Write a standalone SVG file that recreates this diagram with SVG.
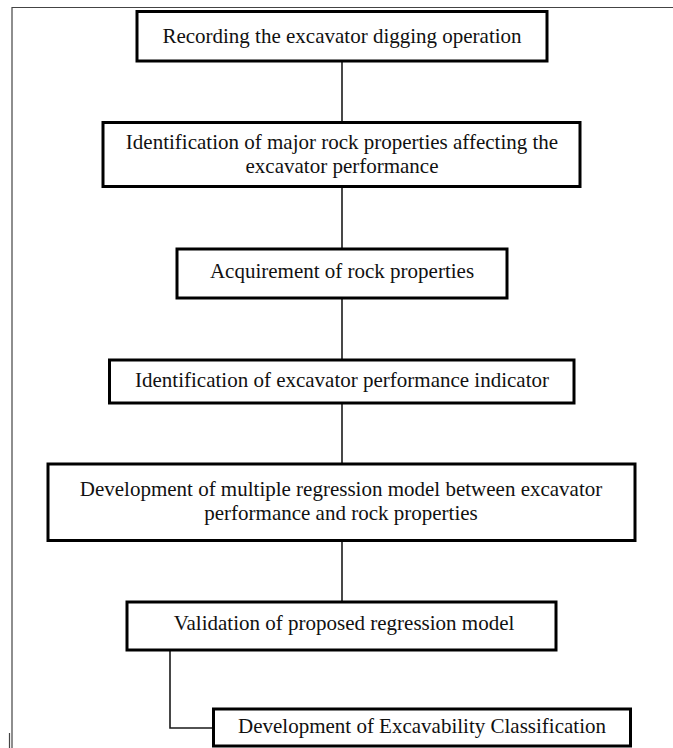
<svg xmlns="http://www.w3.org/2000/svg" width="673" height="748" viewBox="0 0 673 748">
<style>
.box{fill:#fff;stroke:#000;stroke-width:3}
.lbl{font-family:"Liberation Serif","Times New Roman",serif;font-size:21px;fill:#111;text-anchor:middle}
.con{fill:none;stroke:#1a1a1a;stroke-width:1.6}
.frame{fill:none;stroke:#444;stroke-width:1.2}
</style>
<rect width="673" height="748" fill="#fff"/>
<g id="frame">
<polyline class="frame" points="12,748 12,7.5 673,7.5"/>
<line class="frame" x1="9.5" y1="733" x2="9.5" y2="748" stroke="#999"/>
</g>
<g id="connectors">
<line class="con" x1="342" y1="61" x2="342" y2="123"/>
<line class="con" x1="342" y1="187" x2="342" y2="249"/>
<line class="con" x1="342" y1="298" x2="342" y2="360"/>
<line class="con" x1="342" y1="403" x2="342" y2="464"/>
<line class="con" x1="342" y1="541" x2="342" y2="602"/>
<path class="con" d="M170 650 V728 H213.5"/>
</g>
<g id="n1">
<rect class="box" x="137" y="11.5" width="410" height="49.5"/>
<text class="lbl" x="342" y="43">Recording the excavator digging operation</text>
</g>
<g id="n2">
<rect class="box" x="103" y="122.5" width="477" height="64"/>
<text class="lbl" x="342" y="149">Identification of major rock properties affecting the</text>
<text class="lbl" x="342" y="172.5">excavator performance</text>
</g>
<g id="n3">
<rect class="box" x="177" y="249" width="330" height="49"/>
<text class="lbl" x="342" y="278">Acquirement of rock properties</text>
</g>
<g id="n4">
<rect class="box" x="109.5" y="360" width="464.5" height="43"/>
<text class="lbl" x="342" y="386.5">Identification of excavator performance indicator</text>
</g>
<g id="n5">
<rect class="box" x="48" y="464" width="587" height="76.5"/>
<text class="lbl" x="341" y="495.5">Development of multiple regression model between excavator</text>
<text class="lbl" x="341" y="519.5">performance and rock properties</text>
</g>
<g id="n6">
<rect class="box" x="127" y="602" width="429" height="48"/>
<text class="lbl" x="344" y="630">Validation of proposed regression model</text>
</g>
<g id="n7">
<rect class="box" x="213.5" y="709" width="417" height="37"/>
<text class="lbl" x="422" y="733">Development of Excavability Classification</text>
</g>
</svg>
